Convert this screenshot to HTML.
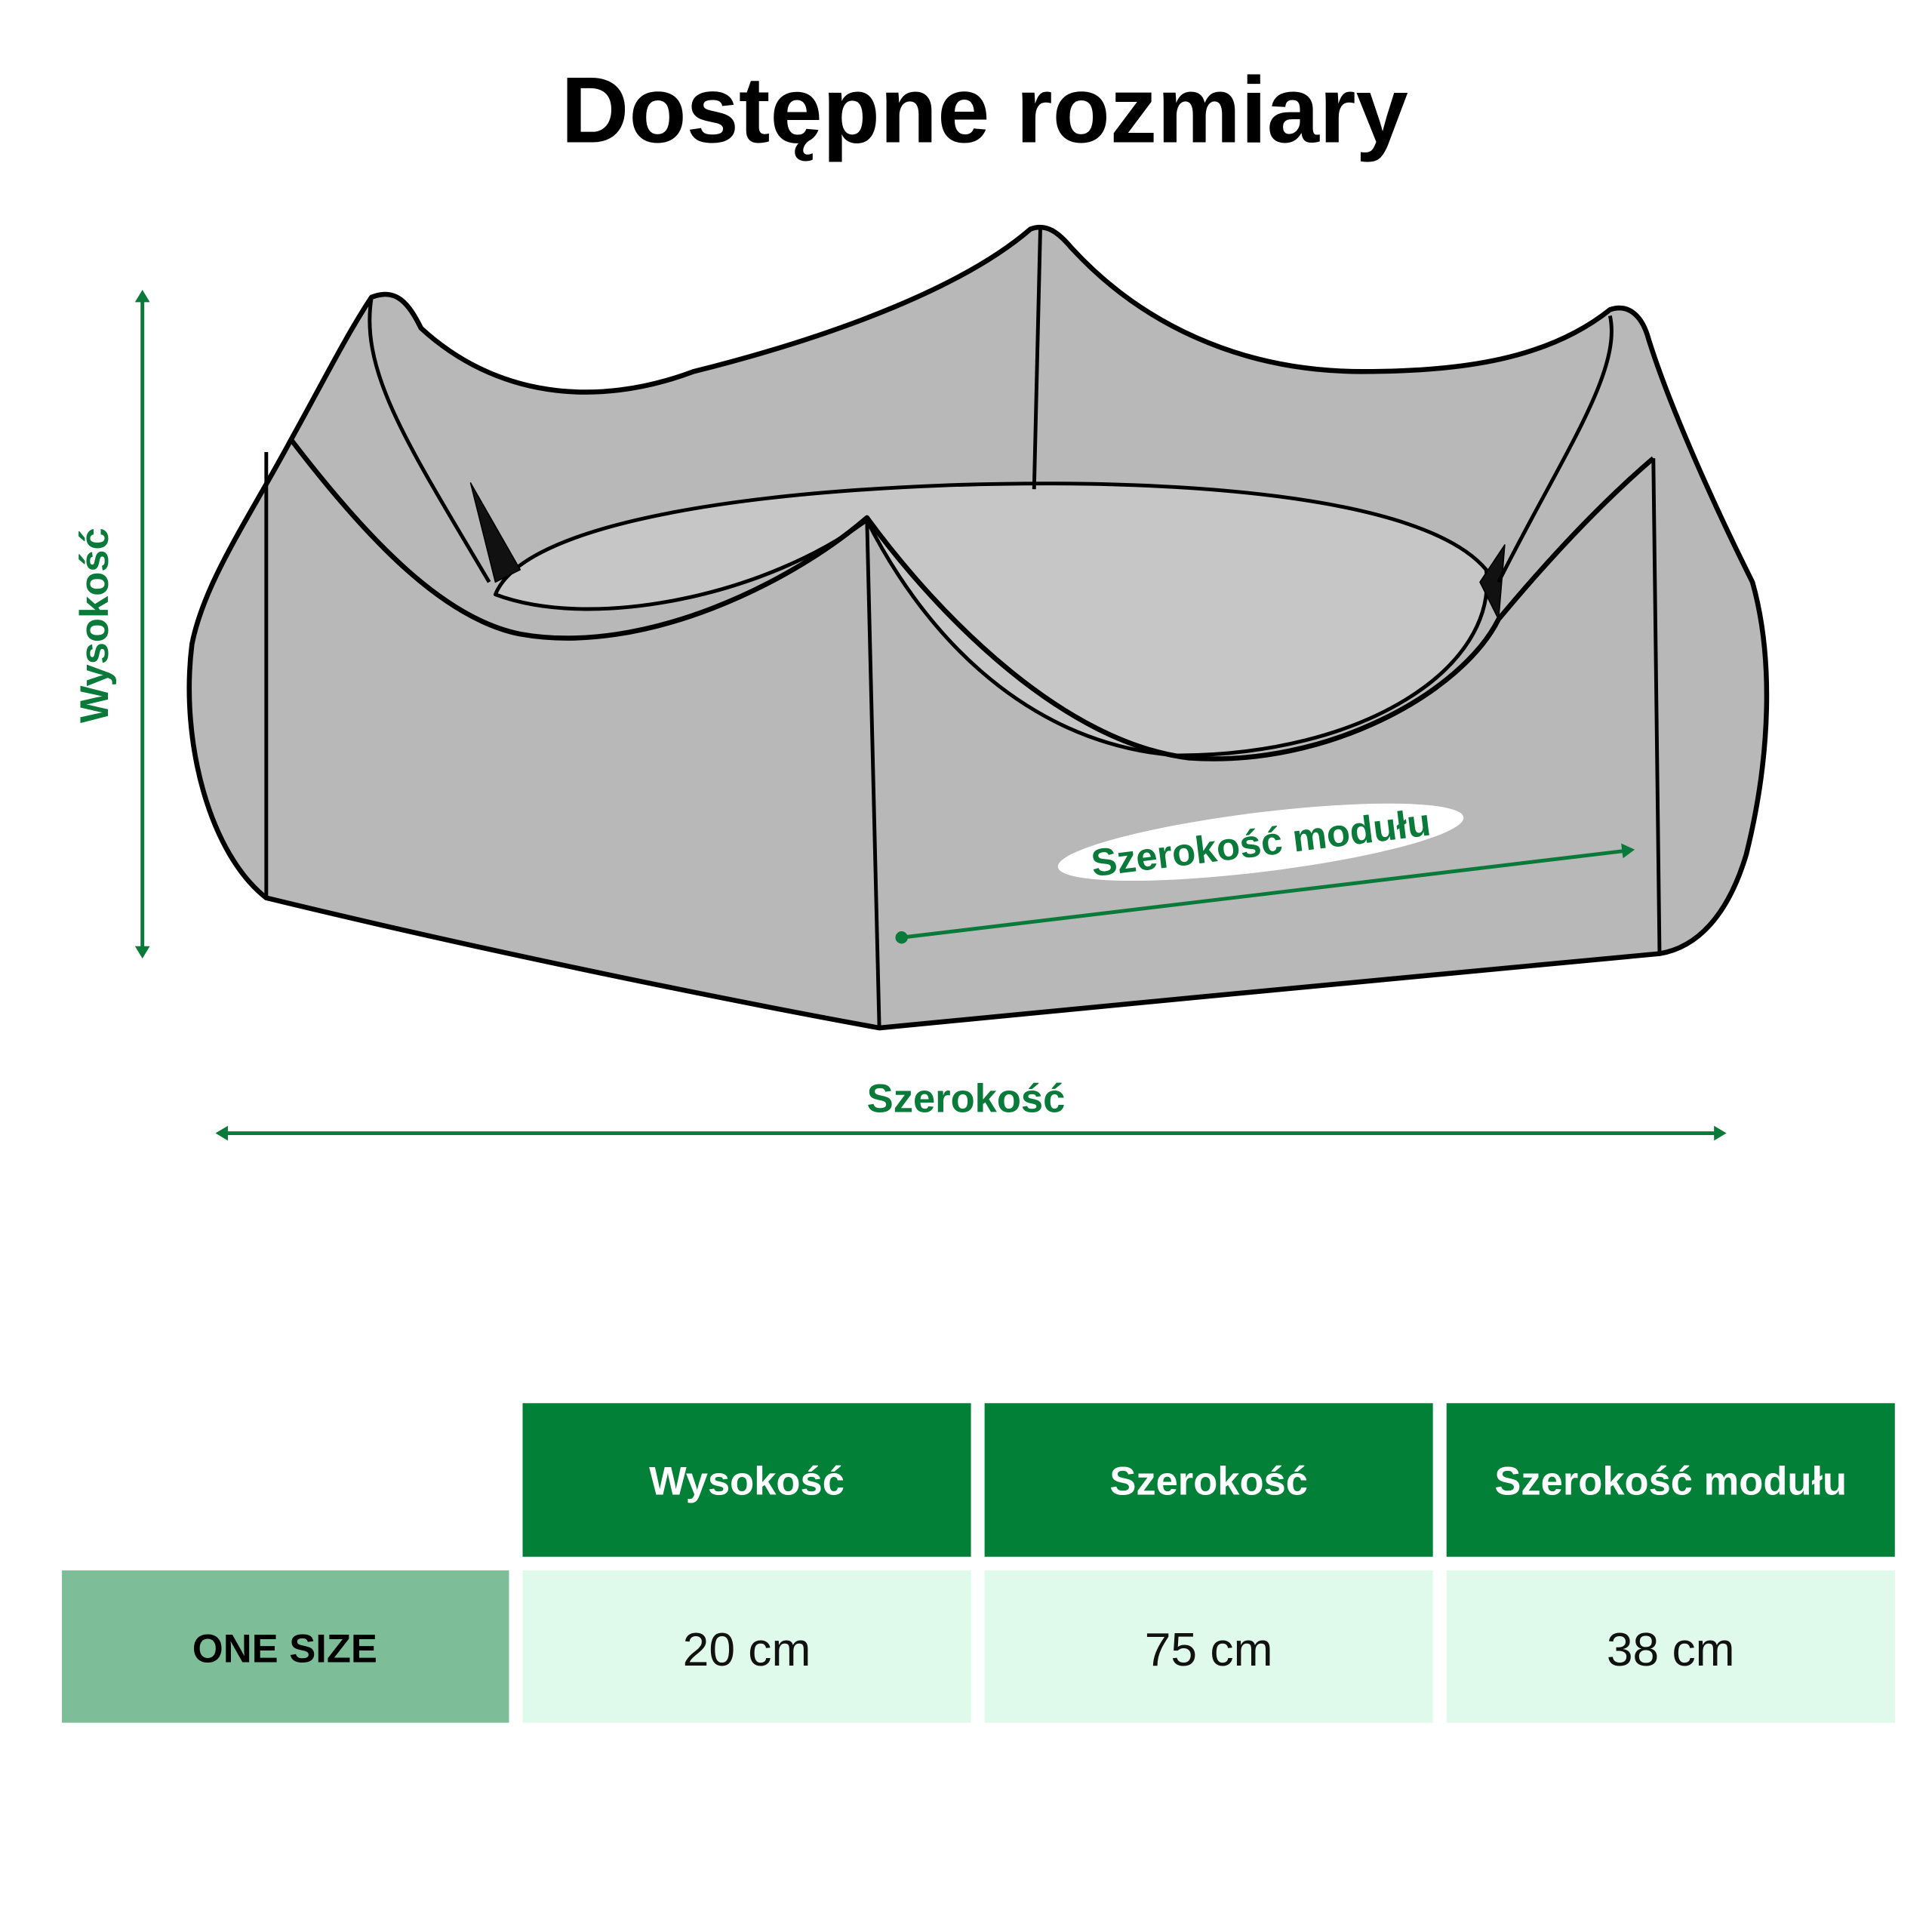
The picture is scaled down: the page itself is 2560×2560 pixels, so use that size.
<!DOCTYPE html>
<html><head><meta charset="utf-8"><style>
html,body{margin:0;padding:0;background:#fff;}
svg{display:block}
</style></head><body>
<svg width="2560" height="2560" viewBox="0 0 1560 1560" xmlns="http://www.w3.org/2000/svg" font-family="Liberation Sans, DejaVu Sans, sans-serif">
<rect width="1560" height="1560" fill="#fff"/>
<text x="795" y="115" text-anchor="middle" font-size="76" font-weight="bold" fill="#000">Dostępne rozmiary</text>

<g stroke="#000" stroke-width="4" stroke-linejoin="round">
<path d="M215,725 C170,690 145,600 155,520 C165,470 200,420 235,355 C260,310 280,270 300,240 C320,232 330,245 340,265 C400,320 480,330 560,300 C680,270 780,230 832,185 C845,180 855,188 865,200 C920,260 1000,300 1100,300 C1180,300 1250,290 1300,250 C1315,245 1325,255 1330,270 C1345,320 1380,400 1415,470 C1432,530 1430,610 1410,690 C1395,740 1370,765 1340,770 C1200,785 900,810 710,830 C600,810 400,770 215,725 Z" fill="#b8b8b8"/>
<path d="M400,480 C420,430 560,400 760,392 C950,385 1150,400 1200,460 C1210,540 1100,610 950,610 C820,600 740,500 700,420 C620,480 480,510 400,480 Z" fill="#c6c6c6" stroke-width="3"/>
<path d="M235,355 C300,440 360,500 420,512 C520,530 640,470 700,418 C760,500 860,600 960,612 C1070,620 1180,560 1210,500 C1260,440 1300,400 1335,370" fill="none"/>
<path d="M380,390 L400,470 L420,460 Z M1195,470 L1215,440 L1210,500 Z" fill="#111" stroke-width="1"/>
<path d="M700,418 L710,830 M215,365 L215,725 M1335,370 L1340,770 M840,185 L835,395 M300,240 C290,300 330,360 395,470 M1300,255 C1310,300 1260,370 1210,470" fill="none" stroke-width="3"/>
</g>

<g stroke="#0a7a3a" stroke-width="3" fill="#0a7a3a">
<line x1="115" y1="242" x2="115" y2="766"/>
<path d="M115,234 l-6,10 h12 z M115,774 l-6,-10 h12 z" stroke="none"/>
<line x1="182" y1="915" x2="1386" y2="915"/>
<path d="M174,915 l10,-6 v12 z M1394,915 l-10,-6 v12 z" stroke="none"/>
<line x1="728" y1="757" x2="1312" y2="687"/>
<circle cx="728" cy="757" r="5" stroke="none"/>
<path d="M1320,686 l-11,-5 l1.5,12 z" stroke="none"/>
</g>
<text x="780" y="898" text-anchor="middle" font-size="32" font-weight="bold" fill="#0a7a3a">Szerokość</text>
<text transform="translate(87,505) rotate(-90)" text-anchor="middle" font-size="32" font-weight="bold" fill="#0a7a3a">Wysokość</text>
<g transform="translate(1018,680) rotate(-7)">
<ellipse cx="0" cy="0" rx="165" ry="24" fill="#fff"/>
<text x="0" y="11" text-anchor="middle" font-size="31" font-weight="bold" fill="#0a7a3a">Szerokość modułu</text>
</g>

<g font-size="32" font-weight="bold" fill="#fff" text-anchor="middle">
<rect x="422" y="1133" width="362" height="124" fill="#038037"/>
<rect x="795" y="1133" width="362" height="124" fill="#038037"/>
<rect x="1168" y="1133" width="362" height="124" fill="#038037"/>
<text x="603" y="1207">Wysokość</text>
<text x="976" y="1207">Szerokość</text>
<text x="1349" y="1207">Szerokość modułu</text>
</g>
<rect x="50" y="1268" width="361" height="123" fill="#7dbd98"/>
<rect x="422" y="1268" width="362" height="123" fill="#dff9ea"/>
<rect x="795" y="1268" width="362" height="123" fill="#dff9ea"/>
<rect x="1168" y="1268" width="362" height="123" fill="#dff9ea"/>
<text x="230" y="1342" text-anchor="middle" font-size="32" font-weight="bold" fill="#000">ONE SIZE</text>
<g font-size="38" fill="#111" text-anchor="middle">
<text x="603" y="1345">20 cm</text>
<text x="976" y="1345">75 cm</text>
<text x="1349" y="1345">38 cm</text>
</g>
</svg>
</body></html>
